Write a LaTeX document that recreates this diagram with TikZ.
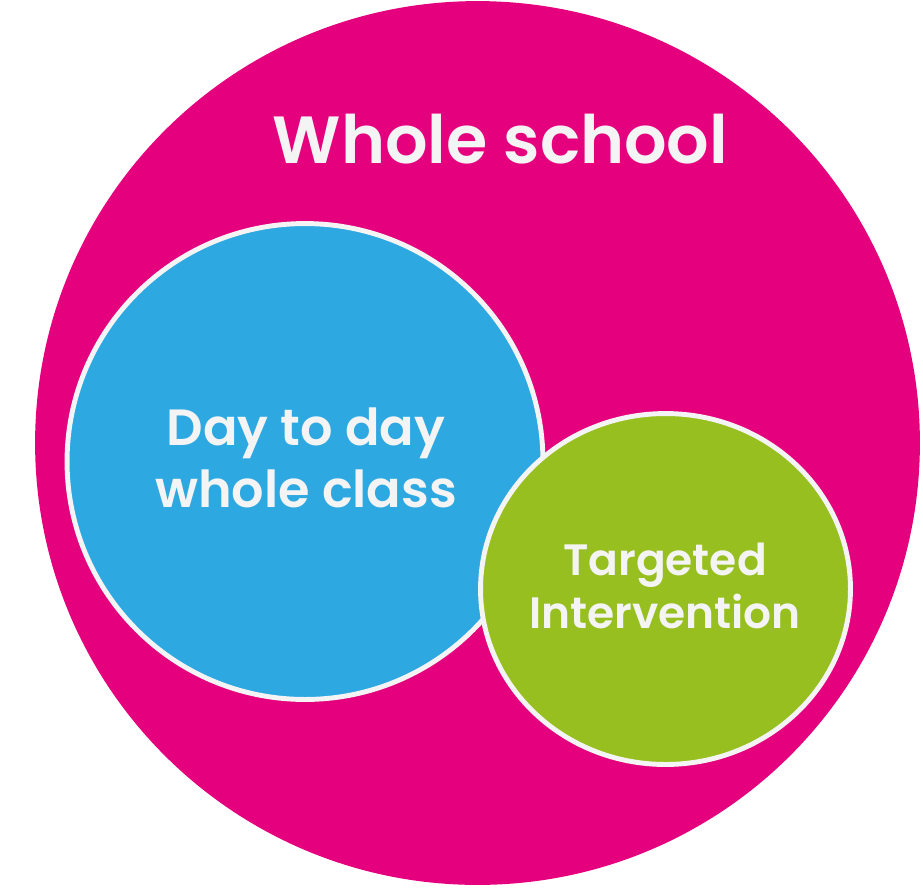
\documentclass[tikz,border=0pt]{standalone}
\usepackage{fontspec}
\setmainfont{Poppins}[BoldFont={Poppins SemiBold}]
\usetikzlibrary{shapes.geometric}
\definecolor{schoolpink}{HTML}{E5007D}
\definecolor{classblue}{HTML}{2DA8E0}
\definecolor{targetgreen}{HTML}{97BF1F}
\definecolor{ringwhite}{HTML}{F4F4F4}

\begin{document}
\begin{tikzpicture}[x=0.02cm,y=-0.02cm]
\tikzstyle{every node}=[text=ringwhite,inner sep=0pt]
\tikzstyle{ring}=[ellipse,draw=ringwhite,line width=2.8pt]
\tikzstyle{label}=[align=center,font=\bfseries]
\useasboundingbox (0,0) rectangle (923,887);
\node[ellipse,fill=schoolpink,minimum width=17.7cm,minimum height=17.68cm] (school) at (477.5,443) {};
\node[ring,fill=classblue,minimum width=9.52cm,minimum height=9.52cm] (class) at (305,461.5) {};
\node[ring,fill=targetgreen,minimum width=7.4cm,minimum height=7.02cm] (target) at (665.5,589) {};
% labels
\node[anchor=base,font=\fontsize{38}{46}\selectfont\bfseries] (schoollabel) at (500.5,163) {Whole school};
\node[label,font=\fontsize{29}{35}\selectfont\bfseries] (classlabel) at (306,458) {Day to day\\whole class};
\node[label,font=\fontsize{25}{30}\selectfont\bfseries] (targetlabel) at (665,586) {Targeted\\Intervention};
\end{tikzpicture}
\end{document}
